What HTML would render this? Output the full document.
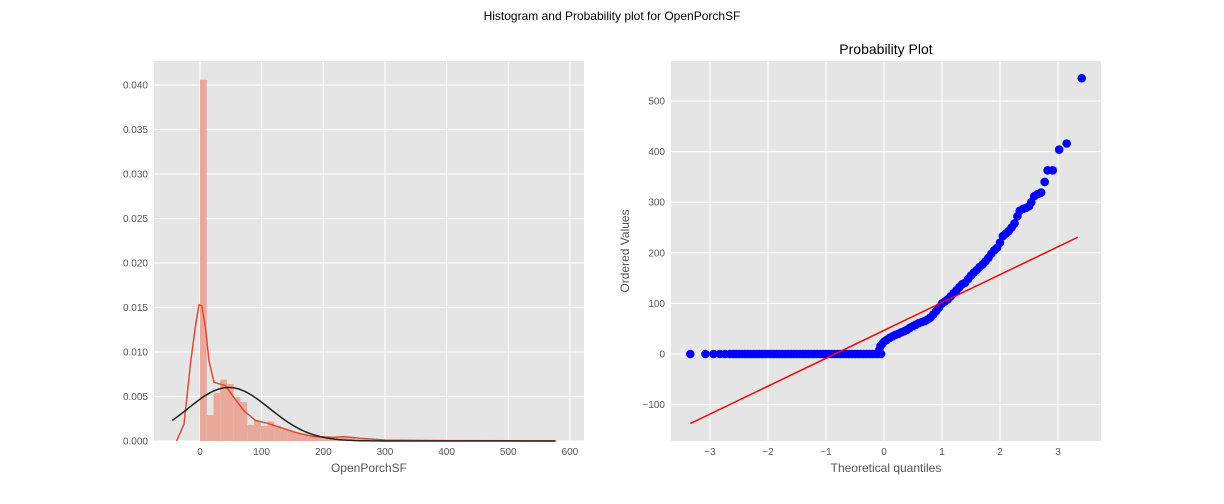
<!DOCTYPE html>
<html><head><meta charset="utf-8">
<style>
body{margin:0;background:#fff;}
svg{display:block;font-family:"Liberation Sans","DejaVu Sans",sans-serif;}
.tick{font-size:10px;fill:#555;}
.lab{font-size:12px;fill:#555;}
</style></head>
<body>
<svg id="fig" width="1224" height="504" viewBox="0 0 1224 504">
<text x="612" y="20" text-anchor="middle" font-size="12" fill="#000">Histogram and Probability plot for OpenPorchSF</text>
<g id="left"></g>
<g id="right"></g>
</svg>
<script>
// Histogram data
const histBinWidth = 10.94;
const histDensity = [0.0406,0.0029,0.0054,0.0069,0.0064,0.0049,0.0044,0.0018,0.0023,0.0017,0.0022,0.0017,0.0013,0.0011,0.0008,0.0007,0.0005,0.0004,0.0003,0.0003,0.0004,0.0004,0.0003,0.0002,0.0002,0.0001,0.0001,0.0001,0.00005,0.00005,0,0,0,0,0,0,0.00003,0,0,0,0,0,0,0,0,0,0,0,0,0.00003];
const kdeX = [-38,-26,-15,-7,-1.6,2.7,9,14.6,22.7,41.6,55,71,90,109,131,158,185,217,233,260,300,400,500,578];
const kdeY = [0,0.0019,0.009,0.0131,0.0153,0.0152,0.0127,0.009,0.0066,0.0062,0.0049,0.0034,0.0023,0.002,0.0015,0.0009,0.0005,0.0004,0.0005,0.0003,0.0001,0.00005,0.00002,0];
const normMean = 46.7, normStd = 66.3, normMin = -45, normMax = 578;
const histXTicks = [0,100,200,300,400,500,600];
const histYTicks = [0,0.005,0.01,0.015,0.02,0.025,0.03,0.035,0.04];
const histYLabels = ["0.000","0.005","0.010","0.015","0.020","0.025","0.030","0.035","0.040"];
// Probability plot data
const zeroQX = [-3.34,-3.08,-2.94,-2.83,-2.74,-2.66,-2.6,-2.55,-2.5,-2.45,-2.4,-2.35,-2.3,-2.25,-2.2,-2.15,-2.1,-2.05,-2.0,-1.95,-1.9,-1.85,-1.8,-1.75,-1.7,-1.65,-1.6,-1.55,-1.5,-1.45,-1.4,-1.35,-1.3,-1.25,-1.2,-1.15,-1.1,-1.05,-1.0,-0.95,-0.9,-0.85,-0.8,-0.75,-0.7,-0.65,-0.6,-0.55,-0.5,-0.45,-0.4,-0.35,-0.3,-0.25,-0.2,-0.15,-0.1,-0.05];
const posQX = [-0.08,-0.06,-0.03,0,0.05,0.1,0.15,0.2,0.25,0.3,0.35,0.4,0.45,0.5,0.55,0.6,0.65,0.7,0.75,0.8,0.85,0.9,0.95,1.0,1.05,1.1,1.15,1.2,1.25,1.3,1.35,1.4,1.45,1.5,1.55,1.6,1.65,1.7,1.75,1.8,1.85,1.9,1.95,2.0,2.05,2.1,2.15,2.2,2.25,2.3,2.34,2.4,2.45,2.5,2.54,2.59,2.65,2.71,2.77,2.82,2.91,3.02,3.15,3.41];
const posQY = [8,16,20,24,28,32,35,38,40,43,45,48,52,55,58,61,63,65,68,72,78,85,92,100,104,108,114,120,126,132,138,141,148,155,161,166,172,177,183,190,198,205,210,220,233,238,243,250,258,272,283,287,289,292,300,312,316,319,340,363,363,404,416,545];
const lineSlope = 55.1, lineIntercept = 46.7, lineXMin = -3.34, lineXMax = 3.34;
const probXTicks = [-3,-2,-1,0,1,2,3];
const probYTicks = [-100,0,100,200,300,400,500];

const NS = "http://www.w3.org/2000/svg";
function mk(parent, tag, attrs){const e=document.createElementNS(NS,tag);for(const k in attrs)e.setAttribute(k,attrs[k]);parent.appendChild(e);return e;}

// ---- Left ----
const L = document.getElementById('left');
const lx = v => 200 + v*0.6165;
const ly = v => 441 - v*8900;
let bg = mk(L,'rect',{x:154,y:61,width:430,height:380,fill:'#e5e5e5'});


histXTicks.forEach(t=>{
  const g=mk(L,'line',{x1:lx(t),x2:lx(t),y1:61,y2:441,stroke:'#fff','stroke-width':1});
  
  
  const tx=mk(L,'text',{x:lx(t),y:455,'text-anchor':'middle',class:'tick'});tx.textContent=t;
  
  
});
histYTicks.forEach((t,i)=>{
  const g=mk(L,'line',{x1:154,x2:584,y1:ly(t),y2:ly(t),stroke:'#fff','stroke-width':1});
  
  
  const tx=mk(L,'text',{x:148,y:ly(t)+3.5,'text-anchor':'end',class:'tick'});tx.textContent=histYLabels[i];
  
  
});
histDensity.forEach((d,i)=>{
  if(d<=0) return;
  const x0=lx(i*histBinWidth), x1=lx((i+1)*histBinWidth);
  const r=mk(L,'rect',{x:x0,y:ly(d),width:x1-x0,height:441-ly(d),fill:'#e8a89a'});
  
  
});
let kp = kdeX.map((x,i)=>lx(x).toFixed(1)+','+ly(kdeY[i]).toFixed(1)).join(' ');
let kde=mk(L,'polyline',{points:kp,fill:'none',stroke:'#e24a33','stroke-width':1.5});


let np=[];
for(let x=normMin;x<=normMax;x+=3){const d=Math.exp(-0.5*((x-normMean)/normStd)**2)/(normStd*Math.sqrt(2*Math.PI));np.push(lx(x).toFixed(1)+','+ly(d).toFixed(1));}
let nl=mk(L,'polyline',{points:np.join(' '),fill:'none',stroke:'#222','stroke-width':1.5});


let xl=mk(L,'text',{x:369,y:472,'text-anchor':'middle',class:'lab'});xl.textContent='OpenPorchSF';



// ---- Right ----
const R = document.getElementById('right');
const rx = v => 884 + v*58;
const ry = v => 354 - v*0.506;
let bg2=mk(R,'rect',{x:671,y:61,width:430,height:380,fill:'#e5e5e5'});


probXTicks.forEach(t=>{
  const g=mk(R,'line',{x1:rx(t),x2:rx(t),y1:61,y2:441,stroke:'#fff','stroke-width':1});
  
  
  const tx=mk(R,'text',{x:rx(t),y:455,'text-anchor':'middle',class:'tick'});tx.textContent=t<0?'\u2212'+(-t):t;
  
  
});
probYTicks.forEach(t=>{
  const g=mk(R,'line',{x1:671,x2:1101,y1:ry(t),y2:ry(t),stroke:'#fff','stroke-width':1});
  
  
  const tx=mk(R,'text',{x:665,y:ry(t)+3.5,'text-anchor':'end',class:'tick'});tx.textContent=t<0?'\u2212'+(-t):t;
  
  
});
zeroQX.forEach(x=>{
  const c=mk(R,'circle',{cx:rx(x),cy:ry(0),r:4.3,fill:'#0000ff'});
  
  
});
posQX.forEach((x,i)=>{
  const c=mk(R,'circle',{cx:rx(x),cy:ry(posQY[i]),r:4.3,fill:'#0000ff'});
  
  
});
let fl=mk(R,'line',{x1:rx(lineXMin),y1:ry(lineIntercept+lineSlope*lineXMin),x2:rx(lineXMax),y2:ry(lineIntercept+lineSlope*lineXMax),stroke:'#ff0000','stroke-width':1.5});


let t2=mk(R,'text',{x:886,y:54,'text-anchor':'middle','font-size':14,fill:'#000'});t2.textContent='Probability Plot';


let xl2=mk(R,'text',{x:886,y:472,'text-anchor':'middle',class:'lab'});xl2.textContent='Theoretical quantiles';


let yl2=mk(R,'text',{x:629,y:251,'text-anchor':'middle',class:'lab',transform:'rotate(-90 629 251)'});yl2.textContent='Ordered Values';


</script>
</body></html>
